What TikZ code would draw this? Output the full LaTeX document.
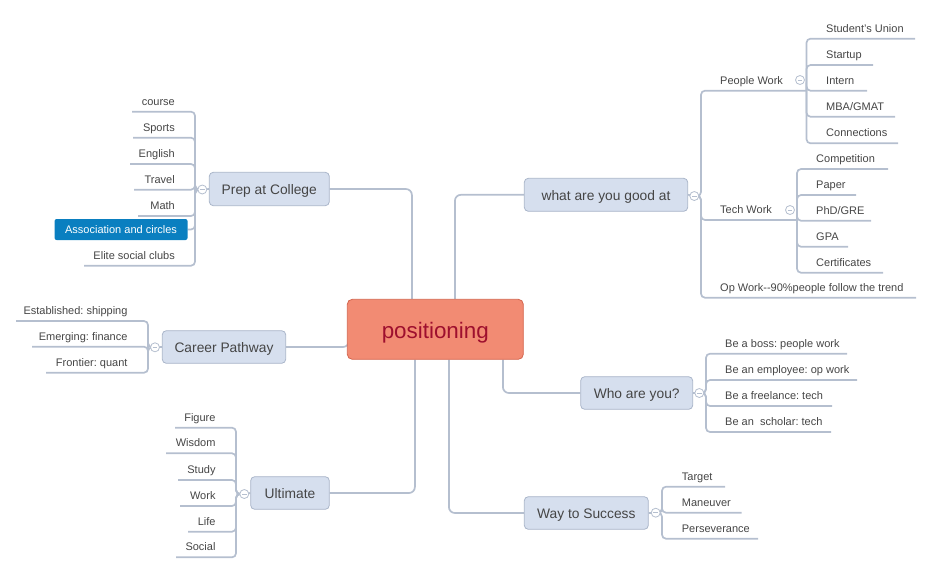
\documentclass[tikz,border=0pt]{standalone}
\usepackage{fontspec}
\setmainfont{Liberation Sans}
\frenchspacing
\usetikzlibrary{backgrounds,calc}
\definecolor{lineC}{HTML}{B5BFCF}
\definecolor{textC}{HTML}{454545}
\definecolor{topicFill}{HTML}{D6DFEE}
\definecolor{topicDraw}{HTML}{A9B5C9}
\definecolor{rootFill}{HTML}{F28B73}
\definecolor{rootDraw}{HTML}{D4654E}
\definecolor{rootText}{HTML}{9E0F2E}
\definecolor{assocBlue}{HTML}{0A7FC0}
\tikzset{
  conn/.style={draw=lineC,line width=1.7pt,rounded corners=4pt},
  topic/.style={rectangle,rounded corners=4pt,fill=topicFill,draw=topicDraw,line width=0.8pt,
    font=\fontsize{13.8}{16}\selectfont,text=textC,inner sep=0pt,text height=12.5pt,text depth=1.5pt},
  leaf/.style={inner sep=0pt,font=\fontsize{11}{13}\selectfont,text=textC},
  coll/.style={circle,minimum size=9pt,inner sep=0pt,fill=white,draw=lineC,line width=0.8pt,
    path picture={\draw[lineC,line width=0.8pt] ([xshift=-2.3pt]path picture bounding box.center) -- ([xshift=2.3pt]path picture bounding box.center);}}
}
\begin{document}
\begin{tikzpicture}[x=1pt,y=-1pt]
\useasboundingbox (0,0) rectangle (933,574);
% root
\node[rectangle,rounded corners=5pt,fill=rootFill,draw=rootDraw,line width=0.8pt,
  minimum width=176pt,minimum height=60pt,text=rootText,font=\fontsize{22.4}{26}\selectfont,
  text height=18pt,text depth=0pt] (pos) at (435.3,329.3) {positioning};
% topics
\node[topic,minimum width=120pt,minimum height=33.4pt] (prep) at (269.3,189) {Prep at College};
\node[topic,minimum width=163.4pt,minimum height=33pt] (what) at (606,194.8) {what are you good at};
\node[topic,minimum width=123.4pt,minimum height=32.6pt] (career) at (224,347) {Career Pathway};
\node[topic,minimum width=112pt,minimum height=32.6pt] (who) at (636.7,393) {Who are you?};
\node[topic,minimum width=78.6pt,minimum height=32.6pt] (ult) at (290,493) {Ultimate};
\node[topic,minimum width=124pt,minimum height=32.6pt] (way) at (586.3,513) {Way to Success};
% collapse circles
\node[coll] (prepc) at (202.3,189.5) {};
\node[coll] (whatc) at (694.3,196) {};
\node[coll] (pwc) at (800,80) {};
\node[coll] (twc) at (790,210) {};
\node[coll] (carc) at (155,347.3) {};
\node[coll] (whoc) at (699.3,393) {};
\node[coll] (ultc) at (244.3,494) {};
\node[coll] (wayc) at (655.7,512.7) {};
% Prep leaves
\foreach \n/\t/\y/\xl in {course/course/111.7/132,sports/Sports/137.7/133,english/English/164/130,
  travel/Travel/189.7/134,math/Math/216/138,elite/Elite social clubs/265.7/84}{
  \node[leaf,anchor=base east] (\n) at (175,\y-6.5) {\t};
  \coordinate (\n-u) at (\xl,\y);
}
\node[anchor=east,fill=assocBlue,text=white,rounded corners=2pt,inner xsep=10.5pt,inner ysep=0pt,
  minimum height=21pt,font=\fontsize{11}{13}\selectfont] (assoc) at (187.7,229.5) {Association and circles};
% Career leaves
\foreach \n/\t/\y/\xl in {estab/Established: shipping/321/16,emerg/Emerging: finance/346.7/32,front/Frontier: quant/372.7/46}{
  \node[leaf,anchor=base east] (\n) at (127.7,\y-6.5) {\t};
  \coordinate (\n-u) at (\xl,\y);
}
% Ultimate leaves
\foreach \n/\t/\y/\xl in {figure/Figure/427.7/175,wisdom/Wisdom/453.3/166,study/Study/480/178,
  work/Work/506/180,life/Life/531.7/188,social/Social/557.3/176}{
  \node[leaf,anchor=base east] (\n) at (215.7,\y-6.5) {\t};
  \coordinate (\n-u) at (\xl,\y);
}
% what sub-branches
\node[leaf,anchor=base west] (pw) at (720,90.7-6.5) {People Work};
\coordinate (pw-u) at (806.5,90.7);
\node[leaf,anchor=base west] (tw) at (720,220-6.5) {Tech Work};
\coordinate (tw-u) at (797,220);
\node[leaf,anchor=base west] (op) at (720,297.7-6.5) {Op Work-{}-90\%people follow the trend};
\coordinate (op-u) at (916,297.7);
% People work leaves
\foreach \n/\t/\y/\xr in {su/Student's Union/38.7/915,startup/Startup/65/873,intern/Intern/90.7/867,
  mba/{MBA/GMAT}/116.7/895,conn/Connections/143.3/898}{
  \node[leaf,anchor=base west] (\n) at (826,\y-6.5) {\t};
  \coordinate (\n-u) at (\xr,\y);
}
% Tech work leaves
\foreach \n/\t/\y/\xr in {comp/Competition/169/888,paper/Paper/195/856,phd/{PhD/GRE}/220.7/871,
  gpa/GPA/246.7/848,cert/Certificates/272.7/883}{
  \node[leaf,anchor=base west] (\n) at (816,\y-6.5) {\t};
  \coordinate (\n-u) at (\xr,\y);
}
% Who leaves
\foreach \n/\t/\y/\xr in {boss/Be a boss: people work/353.7/847,empl/Be an employee: op work/380/857,
  free/Be a freelance: tech/406/832,schol/Be an\ \ scholar: tech/432/831}{
  \node[leaf,anchor=base west] (\n) at (725,\y-6.5) {\t};
  \coordinate (\n-u) at (\xr,\y);
}
% Way leaves
\foreach \n/\t/\y/\xr in {target/Target/486.7/725,maneuver/Maneuver/512.7/741.7,persev/Perseverance/538.7/758}{
  \node[leaf,anchor=base west] (\n) at (681.7,\y-6.5) {\t};
  \coordinate (\n-u) at (\xr,\y);
}
% connectors
\begin{scope}[on background layer]
  \draw[conn,rounded corners=6pt] (prep.east) -| ([xshift=65pt]pos.north west);
  \draw[conn,rounded corners=6pt] ([xshift=108pt]pos.north west) |- (what.west);
  \draw[conn,rounded corners=6pt] (career.east) -| ([xshift=2pt]pos.west);
  \draw[conn,rounded corners=6pt] ([xshift=68pt]pos.south west) |- (ult.east);
  \draw[conn,rounded corners=6pt] ([xshift=102pt]pos.south west) |- (way.west);
  \draw[conn,rounded corners=6pt] ([xshift=156pt]pos.south west) |- (who.west);
  % topic to collapse
  \draw[conn] (prep.west) -- (prepc.center);
  \draw[conn] (what.east) -- (whatc.center);
  \draw[conn] (career.west) -- (carc.center);
  \draw[conn] (who.east) -- (whoc.center);
  \draw[conn] (ult.west) -- (ultc.center);
  \draw[conn] (way.east) -- (wayc.center);
  % Prep
  \foreach \n in {course,sports,english,travel,math,elite}
    \draw[conn] (prepc.center) -- ++(-7.3,0) |- (\n-u);
  \draw[conn] (prepc.center) -- ++(-7.3,0) |- (assoc.east);
  % Career
  \foreach \n in {estab,emerg,front}
    \draw[conn] (carc.center) -- ++(-7,0) |- (\n-u);
  % Ultimate
  \foreach \n in {figure,wisdom,study,work,life,social}
    \draw[conn] (ultc.center) -- ++(-8.3,0) |- (\n-u);
  % what
  \foreach \n in {pw,tw,op}
    \draw[conn] (whatc.center) -- ++(6.7,0) |- (\n-u);
  \foreach \n in {su,startup,intern,mba,conn}
    \draw[conn] (pw-u) |- (\n-u);
  \foreach \n in {comp,paper,phd,gpa,cert}
    \draw[conn] (tw-u) |- (\n-u);
  % Who
  \foreach \n in {boss,empl,free,schol}
    \draw[conn] (whoc.center) -- ++(6.7,0) |- (\n-u);
  % Way
  \foreach \n in {target,maneuver,persev}
    \draw[conn] (wayc.center) -- ++(6.3,0) |- (\n-u);
\end{scope}
\end{tikzpicture}
\end{document}
